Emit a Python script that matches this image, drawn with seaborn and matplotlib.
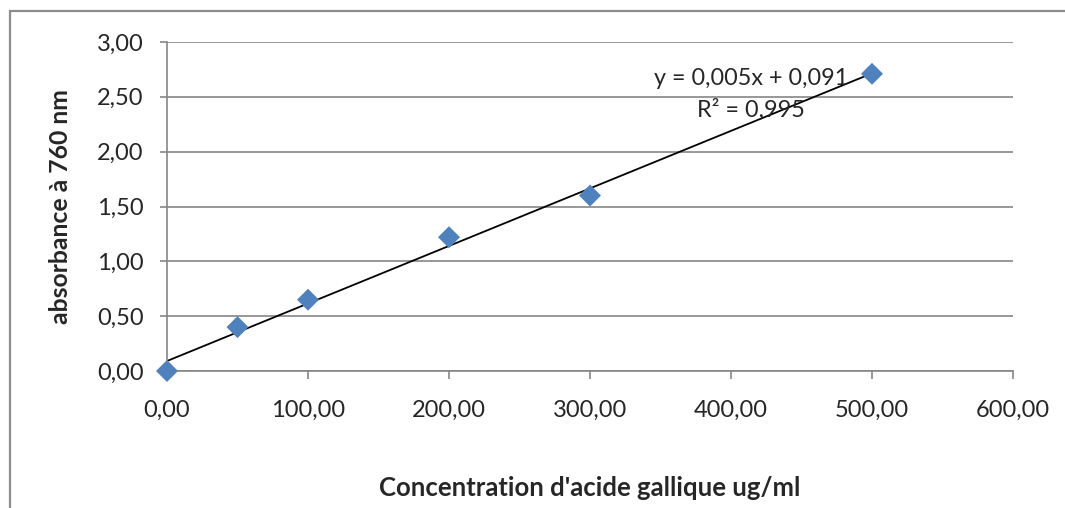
import numpy as np
import pandas as pd
import seaborn as sns
import matplotlib.pyplot as plt
from matplotlib.patches import Rectangle
from matplotlib.ticker import FuncFormatter, MultipleLocator

# gallic acid calibration
concentration = [0, 50, 100, 200, 300, 500]
absorbance = [0.0, 0.40, 0.65, 1.22, 1.60, 2.71]

df = pd.DataFrame({'conc': concentration, 'abs': absorbance})

sns.set_style('white')
plt.rcParams['font.family'] = ['Lato', 'DejaVu Sans']
plt.rcParams['font.size'] = 17

fig = plt.figure(figsize=(10.65, 5.08), dpi=100)
ax = fig.add_axes([167/1065, 1 - 371/508, 846/1065, 329/508])

# chart area border (Excel style, runs off the right/bottom)
fig.patches.append(Rectangle((9.5/1065, -0.1), 1.2, 1 - 11.5/508 + 0.1,
                             transform=fig.transFigure, fill=False,
                             edgecolor='#8c8c8c', lw=1.6, zorder=0))

grey = '#868686'
ax.yaxis.set_major_locator(MultipleLocator(0.5))
ax.xaxis.set_major_locator(MultipleLocator(100))
ax.grid(axis='y', color=grey, lw=1.2)
ax.set_axisbelow(True)

# trend line
slope, intercept = np.polyfit(df['conc'], df['abs'], 1)
pred = slope * df['conc'] + intercept
r2 = 1 - ((df['abs'] - pred) ** 2).sum() / ((df['abs'] - df['abs'].mean()) ** 2).sum()
xs = np.array([df['conc'].min(), df['conc'].max()])
ax.plot(xs, slope * xs + intercept, color='black', lw=1.3, zorder=2)

sns.scatterplot(data=df, x='conc', y='abs', marker='D', s=125, color='#4F81BD',
                edgecolor='none', ax=ax, zorder=3, clip_on=False)

ax.set_xlim(0, 600)
ax.set_ylim(0, 3)

fmt = FuncFormatter(lambda v, p: f'{v:.2f}'.replace('.', ','))
ax.xaxis.set_major_formatter(fmt)
ax.yaxis.set_major_formatter(fmt)

for s in ['top', 'right']:
    ax.spines[s].set_visible(False)
for s in ['left', 'bottom']:
    ax.spines[s].set_color(grey)
    ax.spines[s].set_linewidth(1.2)

ax.tick_params(axis='x', direction='out', length=6, width=1.2, color=grey, pad=15, labelsize=17)
ax.tick_params(axis='y', direction='out', length=5, width=1.2, color=grey, pad=12, labelsize=17)
ax.tick_params(bottom=True, left=True)

ax.set_xlabel("Concentration d'acide gallique ug/ml", fontweight='bold', fontsize=18.5, va='center')
ax.set_ylabel('absorbance à 760 nm', fontweight='bold', fontsize=17.8, va='center')
ax.xaxis.set_label_coords(0.5, -(488 - 371) / 329)
ax.yaxis.set_label_coords((60 - 167) / 846, 0.5)

eq = f'y = {slope:.3f}x + {intercept:.3f}'.replace('.', ',')
r2_txt = f'R² = {r2:.3f}'.replace('.', ',')
ax.text(0.69, 0.888, eq, transform=ax.transAxes, ha='center', va='center', fontsize=16.8)
ax.text(0.69, 0.794, r2_txt, transform=ax.transAxes, ha='center', va='center', fontsize=16.8)

fig.savefig('out.png', dpi=100)
